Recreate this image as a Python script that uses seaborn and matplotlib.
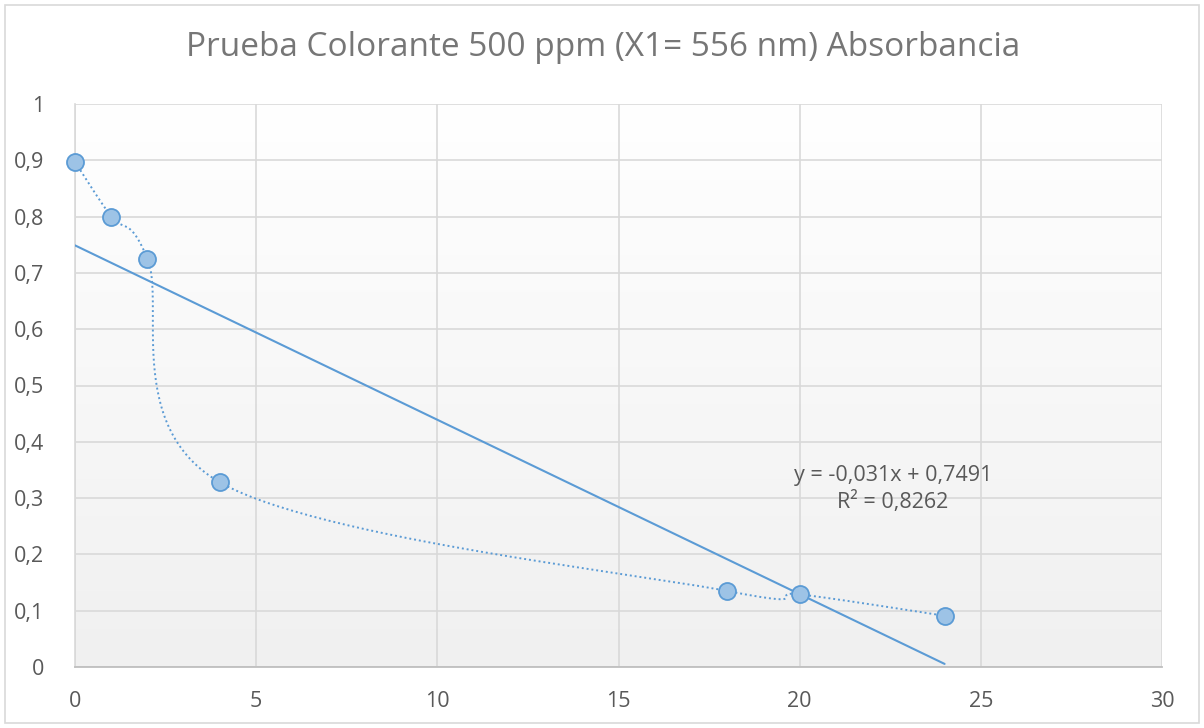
import numpy as np
import pandas as pd
import matplotlib
matplotlib.use("Agg")
import matplotlib.pyplot as plt
import seaborn as sns
from matplotlib.patches import Rectangle

# Data
time_x = [0, 1, 2, 4, 18, 20, 24]
absorb = [0.897, 0.800, 0.725, 0.328, 0.135, 0.129, 0.091]
x_ticks = [0, 5, 10, 15, 20, 25, 30]
y_ticks = [0, 0.1, 0.2, 0.3, 0.4, 0.5, 0.6, 0.7, 0.8, 0.9, 1.0]
y_tick_labels = ["0", "0,1", "0,2", "0,3", "0,4", "0,5", "0,6", "0,7", "0,8", "0,9", "1"]
title = "Prueba Colorante 500 ppm (X1= 556 nm) Absorbancia"
eq_text = "y = -0,031x + 0,7491\nR² = 0,8262"

df = pd.DataFrame({"x": time_x, "y": absorb})

sns.set_theme(style="white")
plt.rcParams["font.family"] = ["Open Sans", "DejaVu Sans"]

W, H = 1204, 728
fig = plt.figure(figsize=(W / 100, H / 100), dpi=100)
ax = fig.add_axes([75 / W, 1 - 667 / H, (1162 - 75) / W, (667 - 104) / H])

BLUE = "#5B9BD5"
FILL = "#9DC3E6"
GRAY_TXT = "#595959"
TITLE_C = "#767676"
GRID = "#D9D9D9"

ax.set_xlim(0, 30)
ax.set_ylim(0, 1)

# gradient background of plot area
grad = np.linspace(0, 1, 256).reshape(-1, 1)
ax.imshow(grad, extent=[0, 30, 0, 1], aspect="auto", origin="lower",
          cmap=matplotlib.colors.LinearSegmentedColormap.from_list("g", ["#F0F0F0", "#FFFFFF"]),
          zorder=0)

# grid
ax.set_xticks(x_ticks)
ax.set_yticks(y_ticks)
ax.set_yticklabels(y_tick_labels)
ax.grid(True, color=GRID, linewidth=1.2, zorder=1)
ax.set_axisbelow(True)
for s in ["top", "right"]:
    ax.spines[s].set_visible(False)
ax.spines["left"].set_color(GRID)
ax.spines["bottom"].set_color("#BFBFBF")
ax.spines["bottom"].set_linewidth(1.3)
ax.spines["left"].set_linewidth(1.2)
ax.tick_params(axis="both", length=0, labelsize=15.5, labelcolor=GRAY_TXT)
ax.tick_params(axis="y", pad=22)
ax.tick_params(axis="x", pad=17)

# Excel-like smoothed line (Bezier via Catmull-Rom in pixel space)
def to_px(x, y):
    return np.array([x / 30 * 1087.0, y * 563.0])

pts = np.array([to_px(a, b) for a, b in zip(time_x, absorb)])
curve = []
n = len(pts)
for i in range(n - 1):
    p0 = pts[i - 1] if i > 0 else pts[i]
    p1 = pts[i]
    p2 = pts[i + 1]
    p3 = pts[i + 2] if i + 2 < n else pts[i + 1]
    c1 = p1 + (p2 - p0) / 6.0
    c2 = p2 - (p3 - p1) / 6.0
    t = np.linspace(0, 1, 60)[:, None]
    seg = ((1 - t) ** 3) * p1 + 3 * ((1 - t) ** 2) * t * c1 + 3 * (1 - t) * t ** 2 * c2 + t ** 3 * p2
    curve.append(seg)
curve = np.vstack(curve)
cx = curve[:, 0] / 1087.0 * 30
cy = curve[:, 1] / 563.0
ax.plot(cx, cy, color=BLUE, linestyle=(0, (1, 1.5)), linewidth=1.4, zorder=3)

# linear trendline through seaborn
sns.regplot(data=df, x="x", y="y", ax=ax, scatter=False, ci=None, truncate=True,
            line_kws={"color": BLUE, "linewidth": 1.5, "zorder": 4})

# markers
sns.scatterplot(data=df, x="x", y="y", ax=ax, s=150, color=FILL, edgecolor=BLUE,
                linewidth=1.3, zorder=5, clip_on=False, legend=False)

ax.set_xlabel("")
ax.set_ylabel("")
ax.set_xlim(0, 30)
ax.set_ylim(0, 1)

ax.text((893 - 75) / 1087 * 30, 1 - (489 - 104) / 563, eq_text,
        ha="center", va="center", fontsize=15.5, color=GRAY_TXT, linespacing=1.25, zorder=6)

fig.text(603 / W, 1 - 48 / H, title, ha="center", va="center", fontsize=24, color=TITLE_C)

# outer chart border
fig.patches.append(Rectangle((5 / W, 5 / H), 1 - 10 / W, 1 - 10 / H, transform=fig.transFigure,
                             fill=False, edgecolor="#D9D9D9", linewidth=1.2))

fig.savefig("out.png", dpi=100, facecolor="white")
